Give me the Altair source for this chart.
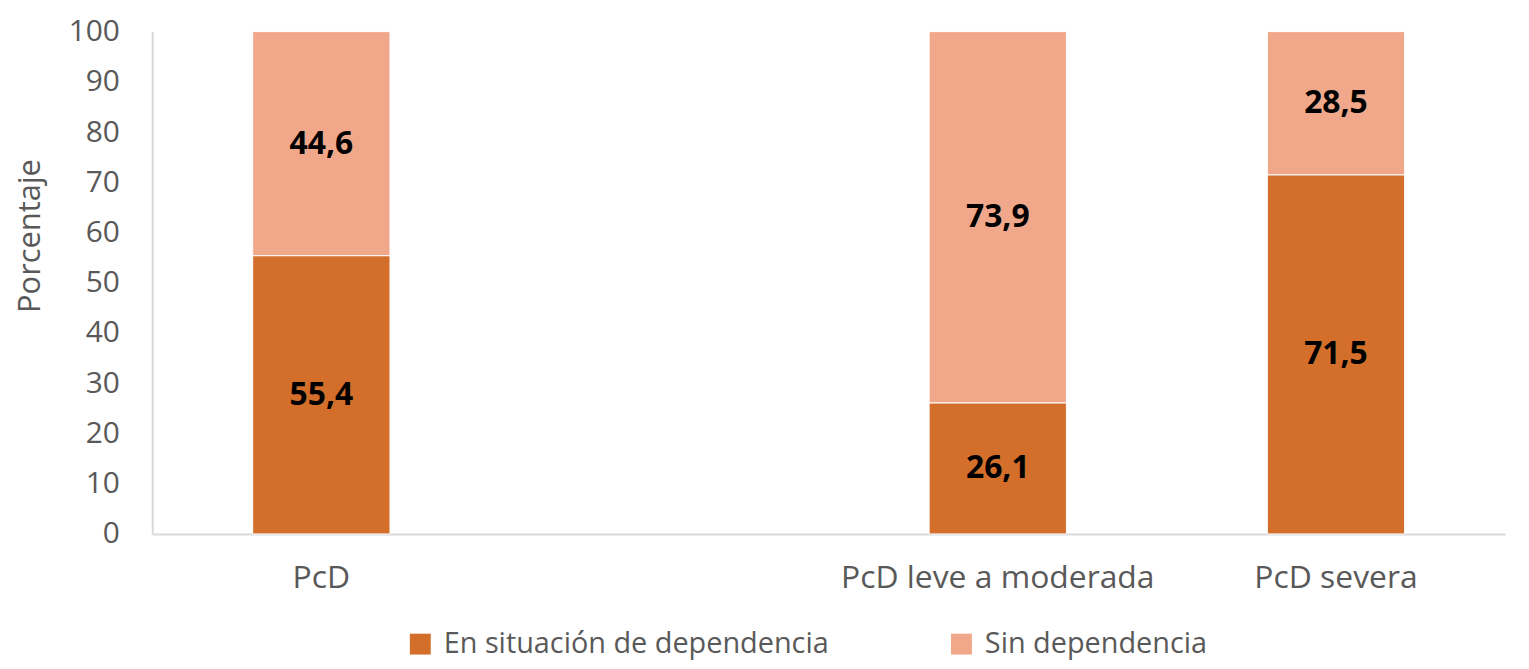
import altair as alt
import pandas as pd

categories = ["PcD", " ", "PcD leve a moderada", "PcD severa"]
bar_categories = ["PcD", "PcD leve a moderada", "PcD severa"]
series = ["En situación de dependencia", "Sin dependencia"]
dependencia = [55.4, 26.1, 71.5]
sin_dependencia = [44.6, 73.9, 28.5]
colors = ["#D36F2B", "#F1A88A"]

rows = []
for c, d, s in zip(bar_categories, dependencia, sin_dependencia):
    rows.append({"cat": c, "serie": series[0], "val": d, "order": 0,
                 "mid": d / 2, "label": f"{d:.1f}".replace(".", ",")})
    rows.append({"cat": c, "serie": series[1], "val": s, "order": 1,
                 "mid": d + s / 2, "label": f"{s:.1f}".replace(".", ",")})
df = pd.DataFrame(rows)

font = "Open Sans"
xscale = alt.Scale(domain=categories, paddingInner=0.594, paddingOuter=0.297)

bars = alt.Chart(df).mark_bar(stroke="white", strokeWidth=1).encode(
    x=alt.X("cat:N", scale=xscale, sort=categories,
            axis=alt.Axis(title=None, labelAngle=0, labelFontSize=32, labelColor="#595959",
                          labelFont=font, labelPadding=29, ticks=False, labelLimit=0,
                          domainColor="#D9D9D9", domainWidth=2)),
    y=alt.Y("val:Q", stack="zero", scale=alt.Scale(domain=[0, 100]),
            axis=alt.Axis(title="Porcentaje", titleFontSize=31, titleFont=font,
                          titleFontWeight="normal", titleColor="#595959",
                          titleX=-122, titleY=205, titleAngle=270, titleAlign="center",
                          titleBaseline="middle",
                          labelFontSize=30, labelColor="#595959", labelFont=font,
                          labelPadding=33, ticks=False, grid=False, values=list(range(0, 101, 10)),
                          domainColor="#D9D9D9", domainWidth=2)),
    color=alt.Color("serie:N", scale=alt.Scale(domain=series, range=colors),
                    legend=alt.Legend(title=None, orient="none", legendX=255, legendY=601,
                                      direction="horizontal", symbolType="square",
                                      symbolSize=441, symbolStrokeWidth=0, labelLimit=0,
                                      labelFontSize=29, labelFont=font, labelColor="#595959",
                                      columnPadding=118, labelOffset=9)),
    order=alt.Order("order:Q"),
)

text = alt.Chart(df).mark_text(fontSize=32, fontWeight="bold", font=font, color="black").encode(
    x=alt.X("cat:N", scale=xscale, sort=categories),
    y=alt.Y("mid:Q"),
    text="label:N",
)

chart = (bars + text).properties(
    width=1360, height=505,
    autosize=alt.AutoSizeParams(type="none"),
    padding={"left": 145, "top": 22, "right": 16, "bottom": 126},
).configure_view(stroke=None)

chart.save("out.html", embed_options={"renderer": "svg", "actions": False})
